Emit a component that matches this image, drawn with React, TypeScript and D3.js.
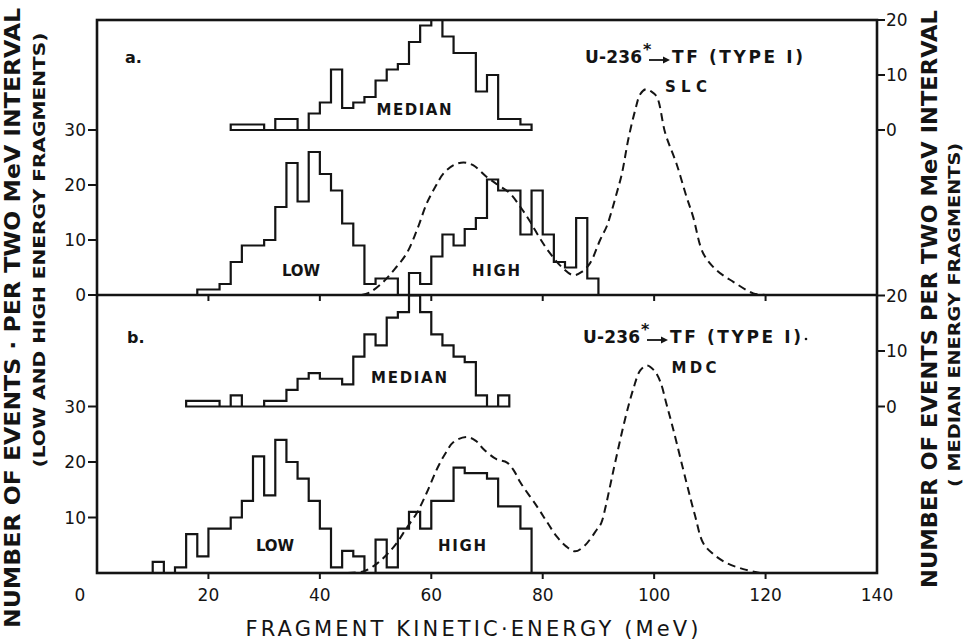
import React from "react";
import * as d3 from "d3";

// Fragment kinetic energy distributions, U-236* -> TF (Type I), 2 MeV bins.
// Each histogram: first bin lower edge (MeV) + counts per 2 MeV bin.
const TOP_LOW_START = 18;
const topLow = [1, 1, 2, 6, 9, 9, 10, 16, 24, 17, 26, 22, 19, 13, 9, 2, 3, 3];
const TOP_HIGH_START = 56;
const topHigh = [4, 2, 7, 11, 9, 12, 14, 21, 19, 19, 11, 19, 11, 6, 5, 14, 3];
const TOP_MEDIAN_START = 24;
const topMedian = [1, 1, 1, 0, 2, 2, 0, 3, 5, 11, 4, 5, 6, 9, 11, 12, 16, 19, 20, 17, 14, 14, 7, 10, 2, 2, 1];

const BOT_LOW_START = 10;
const botLow = [2, 0, 1, 7, 3, 8, 8, 10, 13, 21, 14, 24, 20, 17, 13, 8, 1, 4, 3];
const BOT_HIGH_START = 50;
const botHigh = [6, 1, 8, 11, 8, 13, 13, 19, 18, 18, 17, 12, 12, 8];
const BOT_MEDIAN_START = 16;
const botMedian = [1, 1, 1, 0, 2, 0, 0, 1, 1, 3, 5, 6, 5, 5, 4, 9, 13, 11, 16, 17, 20, 17, 13, 11, 9, 8, 2, 0, 2];

// Calculated single-fragment spectra (dashed), [MeV, events per 2 MeV]
const slcEnergy = [47.5, 49, 51.4, 53.5, 55.6, 57.5, 59.2, 60.8, 62.2, 64, 65.8, 67.5, 69.9, 72, 74.1, 76, 77.7, 79.5, 81.3, 83.5, 85.5, 87, 88.5, 90.3, 91.5, 92.3, 93.3, 94.2, 95.4, 96.6, 97.5, 98.5, 99.5, 100.5, 102, 104, 105.8, 107, 108.8, 111.2, 114.2, 117.8, 120];
const slcCount = [0, 0.5, 2.4, 4.8, 7.6, 12, 16.7, 19.8, 22.1, 23.6, 24.1, 23.6, 21.5, 20, 18.5, 16, 13.4, 10.3, 7.6, 5, 3.6, 4.2, 5.8, 10, 12.5, 15, 18.6, 22, 28.5, 33.6, 36.5, 37.4, 37, 36, 29.4, 23.9, 17.9, 14.2, 7.6, 4.5, 2.4, 0.3, 0];
const mdcEnergy = [45, 47.8, 50, 52, 53.8, 55.5, 57.4, 59.2, 61, 62.5, 64, 66.4, 68, 69.3, 71.7, 73.6, 74.8, 76, 78.9, 80.7, 82.5, 84.2, 85.8, 87.5, 89.7, 90.5, 91.3, 92.1, 93, 94.8, 96.3, 97.5, 98.7, 100, 101.1, 102.2, 103.4, 105.8, 107.3, 108.8, 110.5, 113, 116, 119];
const mdcCount = [0, 0.3, 1.5, 3.3, 5.4, 8, 10.8, 14.5, 18.7, 21.5, 23.6, 24.5, 23.8, 22.4, 20.5, 19.9, 18.5, 16.3, 12.1, 9.3, 6.6, 4.8, 3.9, 4.9, 7.8, 9, 12, 15.7, 19.9, 27.8, 33.3, 36.5, 37.4, 36.5, 34.5, 30.5, 26, 16.3, 10.5, 5.4, 3.5, 1.8, 0.7, 0];

const energyTicks = [0, 20, 40, 60, 80, 100, 120, 140];
const topCountTicks = [0, 10, 20, 30];
const botCountTicks = [10, 20, 30];
const medianTicks = [0, 10, 20];

const BIN = 2;
const MEDIAN_OFFSET = 30; // median histograms sit on the "30" level of the left scale

const W = 964;
const H = 640;
const FONT = "'DejaVu Sans', 'Liberation Sans', Arial, sans-serif";
const INK = "#141414";

const x = d3.scaleLinear().domain([0, 140]).range([97, 877]);
const yTop = d3.scaleLinear().domain([0, 50]).range([295, 20]);
const yBot = d3.scaleLinear().domain([0, 50]).range([573, 295.5]);

function stepPath(start: number, counts: number[], y: d3.ScaleLinear<number, number>, offset = 0) {
  const p = d3.path();
  const end = start + counts.length * BIN;
  p.moveTo(x(start), y(offset));
  counts.forEach((c, i) => {
    p.lineTo(x(start + i * BIN), y(offset + c));
    p.lineTo(x(start + (i + 1) * BIN), y(offset + c));
  });
  p.lineTo(x(end), y(offset));
  p.closePath();
  return p.toString();
}

function curvePath(es: number[], cs: number[], y: d3.ScaleLinear<number, number>) {
  const pts: [number, number][] = es.map((e, i) => [e, cs[i]]);
  return d3
    .line<[number, number]>()
    .x((d) => x(d[0]))
    .y((d) => y(d[1]))
    .curve(d3.curveCatmullRom.alpha(0.5))(pts) as string;
}

type PanelProps = {
  y: d3.ScaleLinear<number, number>;
  low: number[];
  lowStart: number;
  high: number[];
  highStart: number;
  median: number[];
  medianStart: number;
  curveE: number[];
  curveC: number[];
};

function Panel({ y, low, lowStart, high, highStart, median, medianStart, curveE, curveC }: PanelProps) {
  return (
    <g>
      <path d={curvePath(curveE, curveC, y)} fill="none" stroke={INK} strokeWidth={2} strokeDasharray="8 5" />
      <path d={stepPath(lowStart, low, y)} fill="none" stroke={INK} strokeWidth={2.2} />
      <path d={stepPath(highStart, high, y)} fill="none" stroke={INK} strokeWidth={2.2} />
      <path d={stepPath(medianStart, median, y, MEDIAN_OFFSET)} fill="none" stroke={INK} strokeWidth={2.2} />
      {/* energy ticks below the panel baseline */}
      {energyTicks
        .filter((t) => t > 0 && t < 140)
        .map((t) => (
          <line key={t} x1={x(t)} x2={x(t)} y1={y(0)} y2={y(0) + 6} stroke={INK} strokeWidth={2} />
        ))}
      {/* median scale on the right */}
      {medianTicks.map((t) => (
        <g key={t}>
          <line x1={x(140)} x2={x(140) + 8} y1={y(t + MEDIAN_OFFSET)} y2={y(t + MEDIAN_OFFSET)} stroke={INK} strokeWidth={2} />
          <text x={x(140) + 9} y={y(t + MEDIAN_OFFSET) + 6} fontSize={17} fontFamily={FONT} fill={INK}>
            {t}
          </text>
        </g>
      ))}
    </g>
  );
}

function LeftTicks({ y, ticks }: { y: d3.ScaleLinear<number, number>; ticks: number[] }) {
  return (
    <g>
      {ticks.map((t) => (
        <g key={t}>
          <line x1={x(0) - 9} x2={x(0)} y1={y(t)} y2={y(t)} stroke={INK} strokeWidth={2} />
          <text x={x(0) - 11} y={y(t) + 6} textAnchor="end" fontSize={17} fontFamily={FONT} fill={INK}>
            {t}
          </text>
        </g>
      ))}
    </g>
  );
}

function Reaction({ x0, base }: { x0: number; base: number }) {
  return (
    <g fontFamily={FONT} fill={INK} fontWeight={600}>
      <text x={x0} y={base} fontSize={17} textLength={57} lengthAdjust="spacing">
        U-236
      </text>
      <text x={x0 + 58} y={base - 8} fontSize={16} fontWeight={700}>
        *
      </text>
      <line x1={x0 + 64} x2={x0 + 79} y1={base - 3} y2={base - 3} stroke={INK} strokeWidth={1.8} />
      <path d={`M${x0 + 78},${base - 6.5} L${x0 + 85},${base - 3} L${x0 + 78},${base + 0.5} Z`} fill={INK} />
      <text x={x0 + 87} y={base} fontSize={17} textLength={131} lengthAdjust="spacing">
        TF (TYPE I)
      </text>
    </g>
  );
}

export default function App() {
  const labelProps = { fontFamily: FONT, fill: INK, fontWeight: 700 as const, fontSize: 15 };
  return (
    <svg
      width={W}
      height={H}
      viewBox={`0 0 ${W} ${H}`}
      style={{ position: "absolute", left: 0, top: 0, background: "#fff", display: "block" }}
    >
      <rect x={0} y={0} width={W} height={H} fill="#fff" />

      <Panel
        y={yTop}
        low={topLow}
        lowStart={TOP_LOW_START}
        high={topHigh}
        highStart={TOP_HIGH_START}
        median={topMedian}
        medianStart={TOP_MEDIAN_START}
        curveE={slcEnergy}
        curveC={slcCount}
      />
      <Panel
        y={yBot}
        low={botLow}
        lowStart={BOT_LOW_START}
        high={botHigh}
        highStart={BOT_HIGH_START}
        median={botMedian}
        medianStart={BOT_MEDIAN_START}
        curveE={mdcEnergy}
        curveC={mdcCount}
      />

      {/* frame: outer box and panel separator */}
      <rect
        x={x(0)}
        y={yTop(50)}
        width={x(140) - x(0)}
        height={yBot(0) - yTop(50)}
        fill="none"
        stroke={INK}
        strokeWidth={2.6}
      />
      <line x1={x(0)} x2={x(140)} y1={yTop(0)} y2={yTop(0)} stroke={INK} strokeWidth={2.6} />

      <LeftTicks y={yTop} ticks={topCountTicks} />
      <LeftTicks y={yBot} ticks={botCountTicks} />

      {/* energy axis labels */}
      {energyTicks.map((t) => (
        <text
          key={t}
          x={t === 0 ? x(0) - 17 : x(t)}
          y={601}
          textAnchor="middle"
          fontSize={17}
          fontFamily={FONT}
          fill={INK}
        >
          {t}
        </text>
      ))}
      <text
        x={472}
        y={636}
        textAnchor="middle"
        fontSize={21}
        fontFamily={FONT}
        fill={INK}
        textLength={453}
        lengthAdjust="spacing"
      >
        FRAGMENT KINETIC·ENERGY (MeV)
      </text>

      {/* left axis title */}
      <text
        transform="translate(20,318) rotate(-90)"
        textAnchor="middle"
        fontSize={21}
        fontWeight={700}
        fontFamily={FONT}
        fill={INK}
        textLength={620}
        lengthAdjust="spacingAndGlyphs"
      >
        NUMBER OF EVENTS · PER TWO MeV INTERVAL
      </text>
      <text
        transform="translate(45,250) rotate(-90)"
        textAnchor="middle"
        fontSize={16}
        fontWeight={700}
        fontFamily={FONT}
        fill={INK}
        textLength={435}
        lengthAdjust="spacingAndGlyphs"
      >
        (LOW AND HIGH ENERGY FRAGMENTS)
      </text>

      {/* right axis title */}
      <text
        transform="translate(937,299) rotate(-90)"
        textAnchor="middle"
        fontSize={21}
        fontWeight={700}
        fontFamily={FONT}
        fill={INK}
        textLength={578}
        lengthAdjust="spacingAndGlyphs"
      >
        NUMBER OF EVENTS PER TWO MeV INTERVAL
      </text>
      <text
        transform="translate(960,315) rotate(-90)"
        textAnchor="middle"
        fontSize={16}
        fontWeight={700}
        fontFamily={FONT}
        fill={INK}
        textLength={344}
        lengthAdjust="spacingAndGlyphs"
      >
        ( MEDIAN ENERGY FRAGMENTS)
      </text>

      {/* panel a annotations */}
      <text x={125} y={63} {...labelProps} fontSize={16}>a.</text>
      <text x={414} y={115} textAnchor="middle" textLength={75} lengthAdjust="spacing" {...labelProps}>MEDIAN</text>
      <text x={301} y={276} textAnchor="middle" textLength={38} lengthAdjust="spacing" {...labelProps}>LOW</text>
      <text x={496} y={276} textAnchor="middle" textLength={48} lengthAdjust="spacing" {...labelProps}>HIGH</text>
      <Reaction x0={585} base={63} />
      <text x={686} y={92} textAnchor="middle" textLength={42} lengthAdjust="spacing" {...labelProps}>SLC</text>

      {/* panel b annotations */}
      <text x={127} y={343} {...labelProps} fontSize={16}>b.</text>
      <text x={409} y={383} textAnchor="middle" textLength={76} lengthAdjust="spacing" {...labelProps}>MEDIAN</text>
      <text x={275} y={551} textAnchor="middle" textLength={38} lengthAdjust="spacing" {...labelProps}>LOW</text>
      <text x={462} y={551} textAnchor="middle" textLength={48} lengthAdjust="spacing" {...labelProps}>HIGH</text>
      <Reaction x0={583} base={343} />
      <circle cx={806} cy={339} r={1.3} fill={INK} />
      <text x={694} y={373} textAnchor="middle" textLength={45} lengthAdjust="spacing" {...labelProps}>MDC</text>
    </svg>
  );
}
